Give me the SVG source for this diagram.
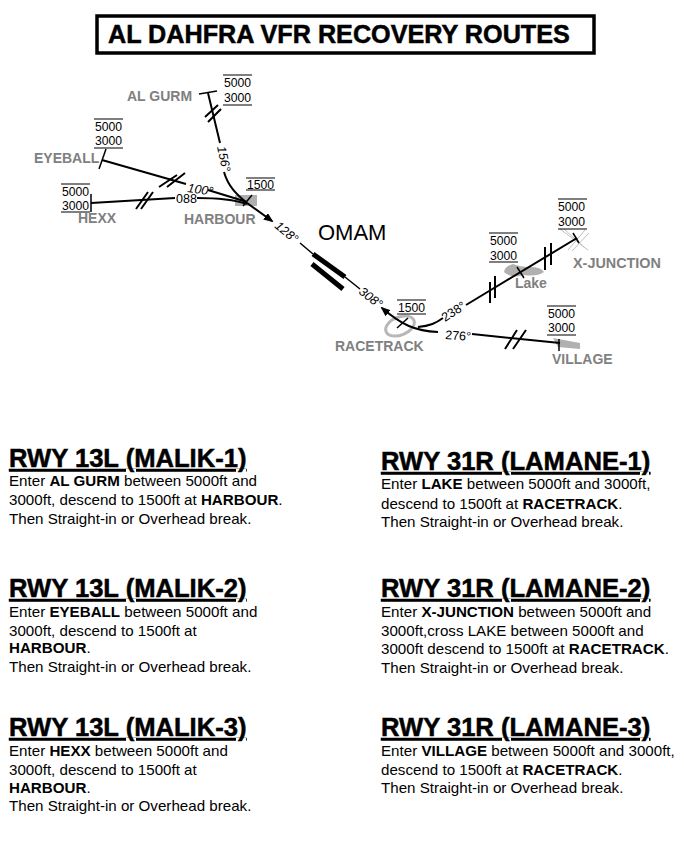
<svg xmlns="http://www.w3.org/2000/svg" width="684" height="846" viewBox="0 0 684 846">
<style>
text{font-family:"Liberation Sans",Arial,sans-serif;fill:#000}
.t{font-size:25.2px;font-weight:bold;stroke:#000;stroke-width:.5}
.h{font-size:25.6px;font-weight:bold;text-decoration:underline;stroke:#000;stroke-width:.5}
.b{font-size:15.15px}
.b tspan{font-weight:bold}
.w{font-size:14px;font-weight:bold;fill:#808080}
.a{font-size:12.2px}
.r{font-size:12.5px;font-style:italic}
.rn{font-size:12.5px}
.l{fill:none;stroke:#000;stroke-width:2}
.k{fill:none;stroke:#000;stroke-width:1.5}
.g{fill:#b0b0b0;stroke:none}
.ln{stroke:#000;stroke-width:1.2}
</style>
<defs>
<marker id="ah" markerWidth="10" markerHeight="8" refX="8" refY="4" orient="auto" markerUnits="userSpaceOnUse"><path d="M0 0L10 4L0 8Z" fill="#000"/></marker>
</defs>
<g id="title"><rect x="97" y="16" width="497" height="37" fill="#fff" stroke="#000" stroke-width="3.5"/><text class="t" x="108" y="43">AL DAHFRA VFR RECOVERY ROUTES</text></g>
<g id="backgrounds">
<rect class="g" x="235" y="195" width="22" height="11"/>
<ellipse cx="400" cy="326" rx="15" ry="9" transform="rotate(-22 400 326)" fill="none" stroke="#b8b8b8" stroke-width="3"/>
<path class="g" d="M504 272Q505 266 513 264Q520 267 530 267Q541 267 544 272Q537 277 524 275Q512 279 504 272Z"/>
<path class="g" d="M553 338L580 343L580 349L558 347Z"/>
<path d="M560 229L588 250M564 229L585 248M585 230L568 250M589 233L572 251" stroke="#c0c0c0" stroke-width="1" fill="none"/>
</g>
<g id="connectors">
<path class="l" d="M208 93L220 143M224 172C228 186 236 194 247 203L272 221" marker-end="url(#ah)"/>
<path class="l" d="M102 160L186 184M208 190L247 202"/>
<path class="l" d="M91 203L175 198M197 198C215 198 232 199 247 204"/>
<path class="k" d="M300 243L313 254M345 277L360 289"/>
<path d="M313 254L345 277M312 264L343 289" stroke="#000" stroke-width="5" fill="none"/>
<path class="l" d="M438 332C415 331 402 325 382 308" marker-end="url(#ah)"/>
<path class="l" d="M418 327C430 326 436 323 443 318M466 305L577 238"/>
<path class="l" d="M472 334L560 343"/>
<path class="l" d="M205 117L218 105M208 122L221 109"/>
<path class="l" d="M159 187L177 175M167 187L185 173"/>
<path class="l" d="M136 209L148 192M141 209L153 192"/>
<path class="l" d="M490 282V303M495 276V298M545 247V270M551 243V265"/>
<path class="l" d="M505 349L517 330M513 349L526 330"/>
</g>
<g id="alGurm"><path class="k" d="M199 94L217 91"/><path class="ln" d="M223 75H252M223 105H252"/><text class="a" x="224" y="87">5000</text><text class="a" x="224" y="102">3000</text><text class="w" x="127" y="101">AL GURM</text></g>
<g id="eyeball"><path class="k" d="M106 149L99 169"/><path class="ln" d="M94 119H123M94 148H123"/><text class="a" x="95" y="131">5000</text><text class="a" x="95" y="145">3000</text><text class="w" x="34" y="163">EYEBALL</text></g>
<g id="hexx"><path class="k" d="M91 194V212"/><path class="ln" d="M61 184H90M61 212H90"/><text class="a" x="62" y="196">5000</text><text class="a" x="62" y="210">3000</text><text class="w" x="78" y="223">HEXX</text></g>
<g id="harbour"><path class="k" d="M243 206L252 195"/><path class="ln" d="M246 178H275M246 190H275"/><text class="a" x="247" y="189">1500</text><text class="w" x="184" y="224">HARBOUR</text></g>
<g id="omam"><text x="318" y="240" font-size="22">OMAM</text></g>
<g id="racetrack"><path class="k" d="M397 328L408 318"/><path class="ln" d="M397 300H426M397 314H426"/><text class="a" x="398" y="312">1500</text><text class="w" x="335" y="351">RACETRACK</text></g>
<g id="lake"><path class="k" d="M517 267L524 278"/><path class="ln" d="M489 233H518M489 262H518"/><text class="a" x="490" y="245">5000</text><text class="a" x="490" y="260">3000</text><text class="w" x="515" y="288">Lake</text></g>
<g id="xJunction"><path class="k" d="M573 233L579 243"/><path class="ln" d="M558 199H587M558 229H587"/><text class="a" x="558" y="211">5000</text><text class="a" x="558" y="226">3000</text><text class="w" x="573" y="268" style="font-size:14.4px">X-JUNCTION</text></g>
<g id="village"><path class="k" d="M559 339V351"/><path class="ln" d="M547 306H576M547 335H576"/><text class="a" x="548" y="318">5000</text><text class="a" x="548" y="332">3000</text><text class="w" x="552" y="364">VILLAGE</text></g>
<g id="radials">
<text class="r" transform="translate(217 147) rotate(78)">156°</text>
<text class="r" x="187" y="192" transform="rotate(8 187 192)">100°</text>
<text class="rn" x="176" y="203">088</text>
<text class="r" transform="translate(274 227) rotate(40)">128°</text>
<text class="r" transform="translate(358 293) rotate(38)">308°</text>
<text class="rn" transform="translate(445 322) rotate(-33)">238°</text>
<text class="rn" x="445" y="339" transform="rotate(4 445 339)">276°</text>
</g>
<g id="malik1"><text class="h" x="9" y="467">RWY 13L (MALIK-1)</text><text class="b" x="9" y="486">Enter <tspan>AL GURM</tspan> between 5000ft and</text><text class="b" x="9" y="505">3000ft, descend to 1500ft at <tspan>HARBOUR</tspan>.</text><text class="b" x="9" y="524">Then Straight-in or Overhead break.</text></g>
<g id="malik2"><text class="h" x="9" y="597">RWY 13L (MALIK-2)</text><text class="b" x="9" y="617">Enter <tspan>EYEBALL</tspan> between 5000ft and</text><text class="b" x="9" y="636">3000ft, descend to 1500ft at</text><text class="b" x="9" y="653"><tspan>HARBOUR</tspan>.</text><text class="b" x="9" y="672">Then Straight-in or Overhead break.</text></g>
<g id="malik3"><text class="h" x="9" y="736">RWY 13L (MALIK-3)</text><text class="b" x="9" y="756">Enter <tspan>HEXX</tspan> between 5000ft and</text><text class="b" x="9" y="775">3000ft, descend to 1500ft at</text><text class="b" x="9" y="793"><tspan>HARBOUR</tspan>.</text><text class="b" x="9" y="811">Then Straight-in or Overhead break.</text></g>
<g id="lamane1"><text class="h" x="381" y="470">RWY 31R (LAMANE-1)</text><text class="b" x="381" y="489">Enter <tspan>LAKE</tspan> between 5000ft and 3000ft,</text><text class="b" x="381" y="509">descend to 1500ft at <tspan>RACETRACK</tspan>.</text><text class="b" x="381" y="527">Then Straight-in or Overhead break.</text></g>
<g id="lamane2"><text class="h" x="381" y="597">RWY 31R (LAMANE-2)</text><text class="b" x="381" y="617">Enter <tspan>X-JUNCTION</tspan> between 5000ft and</text><text class="b" x="381" y="636">3000ft,cross LAKE between 5000ft and</text><text class="b" x="381" y="654">3000ft descend to 1500ft at <tspan>RACETRACK</tspan>.</text><text class="b" x="381" y="673">Then Straight-in or Overhead break.</text></g>
<g id="lamane3"><text class="h" x="381" y="736">RWY 31R (LAMANE-3)</text><text class="b" x="381" y="756">Enter <tspan>VILLAGE</tspan> between 5000ft and 3000ft,</text><text class="b" x="381" y="775">descend to 1500ft at <tspan>RACETRACK</tspan>.</text><text class="b" x="381" y="793">Then Straight-in or Overhead break.</text></g>
</svg>
